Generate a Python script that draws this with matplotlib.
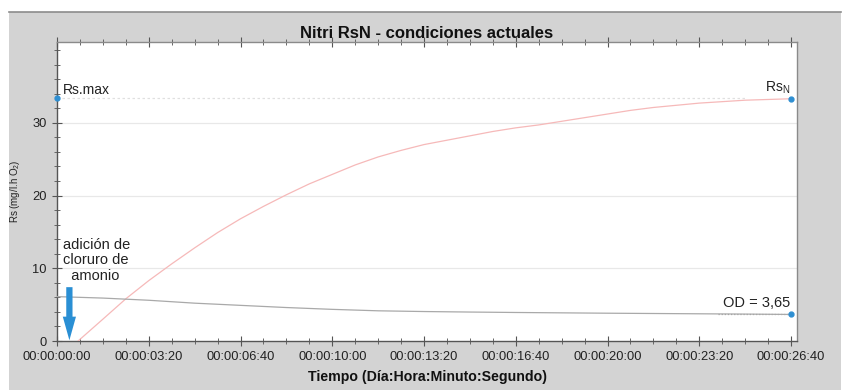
import matplotlib
matplotlib.use("Agg")
import matplotlib.pyplot as plt
from matplotlib.patches import Rectangle
from matplotlib.ticker import MultipleLocator, FixedLocator

plt.rcParams['font.family'] = ['Liberation Sans', 'DejaVu Sans']

# Respiration rate Rs (mg/l.h O2) after ammonium chloride addition
rs_time = [46, 100, 150, 200, 250, 300, 350, 400, 450, 500, 550, 600, 650, 700,
           750, 800, 850, 900, 950, 1000, 1050, 1100, 1150, 1200, 1250, 1300,
           1350, 1400, 1450, 1500, 1550, 1600]
rs_vals = [0.0, 3.0, 5.8, 8.3, 10.6, 12.8, 14.9, 16.8, 18.5, 20.1, 21.6, 22.9,
           24.2, 25.3, 26.2, 27.0, 27.6, 28.2, 28.8, 29.3, 29.7, 30.2, 30.7,
           31.2, 31.7, 32.1, 32.4, 32.7, 32.9, 33.1, 33.2, 33.3]

# Dissolved oxygen trace
od_time = [0, 100, 200, 300, 400, 500, 600, 700, 800, 900, 1000, 1100, 1200,
           1300, 1400, 1500, 1600]
od_vals = [6.1, 5.9, 5.6, 5.2, 4.9, 4.6, 4.35, 4.15, 4.05, 3.98, 3.92, 3.87,
           3.82, 3.78, 3.74, 3.70, 3.65]

rs_max = 33.4
rs_end = 33.3
od_end = 3.65
addition_time = 27
arrow_top = 7.4

tick_seconds = [0, 200, 400, 600, 800, 1000, 1200, 1400, 1600]
tick_labels = ["00:00:00:00", "00:00:03:20", "00:00:06:40", "00:00:10:00",
               "00:00:13:20", "00:00:16:40", "00:00:20:00", "00:00:23:20",
               "00:00:26:40"]
y_ticks = [0, 10, 20, 30]

fig = plt.figure(figsize=(8.43, 3.9), dpi=100)
fig.patch.set_facecolor("white")
fig.patches.append(Rectangle((9 / 843, 0), 832 / 843, 378 / 390,
                             transform=fig.transFigure, facecolor="#d3d3d3",
                             edgecolor="none", zorder=-5))
fig.lines.append(plt.Line2D([9 / 843, 841 / 843], [378 / 390, 378 / 390],
                            transform=fig.transFigure, color="#8c8c8c", lw=1.2,
                            zorder=-4))

ax = fig.add_axes([57 / 843, 49 / 390, 740 / 843, 299 / 390])
ax.set_zorder(1)
ax.set_facecolor("white")
ax.set_xlim(0, 1613)
ax.set_ylim(0, 41.1)

for yv in [10, 20, 30]:
    ax.axhline(yv, color="#e8e8e8", lw=0.9, zorder=1)

ax.plot(rs_time, rs_vals, color="#f6b9b9", lw=0.9, zorder=3)
ax.plot(od_time, od_vals, color="#a9a9a9", lw=0.9, zorder=3)

# reference guides for the labelled values
ax.plot([0, 1500], [rs_max, rs_max], color="#e0e0e0", lw=0.9, ls=(0, (2, 2)), zorder=2)
ax.plot([1440, 1600], [od_end, od_end], color="#a0a0a0", lw=0.9, ls=(0, (1, 1.5)), zorder=2)

ax.plot([0], [rs_max], "o", color="#2f8fd2", ms=3.5, clip_on=False, zorder=5)
ax.plot([1600], [rs_end], "o", color="#2f8fd2", ms=3.5, clip_on=False, zorder=5)
ax.plot([1600], [od_end], "o", color="#2f8fd2", ms=3.5, clip_on=False, zorder=5)

ax.text(12, rs_max + 0.2, "Rs.max", fontsize=10, ha="left", va="bottom", color="#222222")
ax.text(1598, rs_end + 0.4, "Rs$_\\mathregular{N}$", fontsize=10, ha="right", va="bottom",
        color="#222222")
ax.text(1598, od_end + 0.6, "OD = 3,65", fontsize=10.5, ha="right", va="bottom", color="#222222")

ax.annotate("", xy=(addition_time, 0.1), xytext=(addition_time, arrow_top),
            arrowprops=dict(arrowstyle="simple,head_length=1.7,head_width=0.95,tail_width=0.45",
                            mutation_scale=10, color="#2a8fd4", lw=0, shrinkA=0, shrinkB=0),
            zorder=6)
ax.text(12, 14.2, "adición de\ncloruro de\n  amonio", fontsize=10.5, ha="left", va="top",
        color="#222222", linespacing=1.15)

ax.xaxis.set_major_locator(FixedLocator(tick_seconds))
ax.set_xticklabels(tick_labels)
ax.xaxis.set_minor_locator(MultipleLocator(50))
ax.yaxis.set_major_locator(FixedLocator(y_ticks))
ax.yaxis.set_minor_locator(MultipleLocator(2))

ax.tick_params(axis="x", which="major", direction="inout", length=7, width=0.8,
               color="#555555", labelsize=9.3, pad=4, top=True, labelcolor="#222222")
ax.tick_params(axis="x", which="minor", direction="inout", length=5, width=0.7,
               color="#666666", top=True)
ax.tick_params(axis="y", which="major", direction="inout", length=7, width=0.8,
               color="#555555", labelsize=9.3, pad=4, labelcolor="#222222")
ax.tick_params(axis="y", which="minor", direction="inout", length=5, width=0.7,
               color="#666666")

for side in ["left", "bottom"]:
    ax.spines[side].set_color("#555555")
    ax.spines[side].set_linewidth(1.0)
for side in ["top", "right"]:
    ax.spines[side].set_color("#8a8a8a")
    ax.spines[side].set_linewidth(1.0)

ax.set_title("Nitri RsN - condiciones actuales", fontsize=12, fontweight="bold", pad=3,
             color="#111111")
ax.set_xlabel("Tiempo (Día:Hora:Minuto:Segundo)", fontsize=10.2, fontweight="bold",
              labelpad=5, color="#111111")
ax.set_ylabel("Rs (mg/l.h O$_\\mathregular{2}$)", fontsize=7, labelpad=7, color="#222222")

fig.savefig("out.png", dpi=100, facecolor=fig.get_facecolor())
